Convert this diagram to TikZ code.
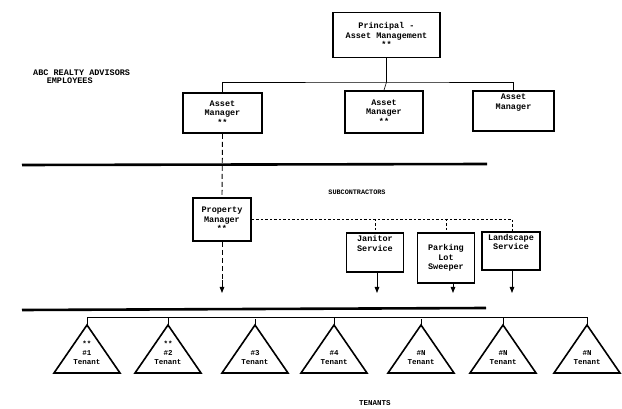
\documentclass[tikz,border=0pt]{standalone}
\usepackage{fontspec}
\setmonofont{Liberation Mono}
\usetikzlibrary{arrows.meta}
\tikzset{
  box/.style={draw, line width=1.6pt, inner sep=0pt, align=center, font=\ttfamily\bfseries\fontsize{8.5}{9.5}\selectfont},
  thin/.style={line width=0.6pt},
  sep/.style={line width=2.6pt},
  tri/.style={draw, line width=1.6pt, line join=miter},
  ttext/.style={align=center, font=\ttfamily\bfseries\fontsize{7.5}{9}\selectfont, inner sep=0pt},
  lbl/.style={align=left, font=\ttfamily\bfseries\fontsize{8.5}{8}\selectfont, inner sep=0pt},
  arr/.style={-{Triangle[length=6pt,width=4.5pt]}, line width=0.9pt},
  dashv/.style={dash pattern=on 5pt off 3pt, line width=0.9pt},
  dashh/.style={dash pattern=on 2.5pt off 2pt, line width=0.6pt}
}
\begin{document}
\begin{tikzpicture}[x=1pt,y=-1pt]
\useasboundingbox (0,0) rectangle (622,409);
% employees
\node[box, minimum width=107pt, minimum height=45pt] (pr) at (386.5,35) {Principal -\\Asset Management\\**};
\node[lbl, anchor=north west] (abc) at (33,70) {ABC REALTY ADVISORS\\\hspace{1.6em}EMPLOYEES};
\node[box, minimum width=79pt, minimum height=40pt] (am1) at (222.5,113) {Asset\\Manager\\**};
\node[box, minimum width=78pt, minimum height=42pt] (am2) at (384,112) {Asset\\Manager\\**};
\node[box, minimum width=81pt, minimum height=40pt] (am3) at (513.5,111) {Asset\\Manager\\[9pt]};
\coordinate (hl) at (386.5,82);
\draw[thin] (pr.south) -- (hl);
\draw[thin] (am1.north) |- (hl) -| (am3.north);
\draw[thin] (hl) -- (am2.north);
% separator 1
\coordinate (s1a) at (22,165);
\coordinate (s1b) at (487,164);
\draw[sep] (s1a) -- (s1b);
% subcontractors
\node[font=\ttfamily\bfseries\fontsize{6.8}{7}\selectfont, inner sep=0pt] (sub) at (357,192) {SUBCONTRACTORS};
\node[box, minimum width=58pt, minimum height=43pt] (pm) at (222,219.5) {Property\\Manager\\**};
\node[box, minimum width=57pt, minimum height=39pt] (jan) at (375,252.5) {Janitor\\Service\\[9pt]};
\node[box, minimum width=57pt, minimum height=50pt] (park) at (446,258) {Parking\\Lot\\Sweeper};
\node[box, minimum width=58pt, minimum height=38pt] (land) at (511,251) {Landscape\\Service\\[9pt]};
\draw[dashv] (am1.south) -- (pm.north);
\coordinate (dh) at (512,219);
\draw[dashh] (pm.east |- dh) -- (dh) -- (land.north -| dh);
\draw[dashh] (jan.north |- dh) -- (jan.north);
\draw[dashh] (park.north |- dh) -- (park.north);
\coordinate (pmend) at (222,293);
\draw[dashv] (pm.south) -- ++(0,40);
\draw[arr] (222,280) -- (pmend);
\coordinate (janend) at (377,293);
\coordinate (parkend) at (453,293);
\coordinate (landend) at (512,293);
\draw[arr] (jan.south -| janend) -- (janend);
\draw[arr] (park.south -| parkend) -- (parkend);
\draw[arr] (land.south -| landend) -- (landend);
% separator 2
\coordinate (s2a) at (22,310);
\coordinate (s2b) at (486,308);
\draw[sep] (s2a) -- (s2b);
% tenants
\foreach \n/\cx/\lab in {1/87/{**\\\#1\\Tenant}, 2/168/{**\\\#2\\Tenant}, 3/255/{\#3\\Tenant}, 4/334/{\#4\\Tenant}, 5/421/{\#N\\Tenant}, 6/503/{\#N\\Tenant}, 7/587/{\#N\\Tenant}}{
  \draw[tri] (\cx,325) -- (\cx+33,373) -- (\cx-33,373) -- cycle;
  \coordinate (t\n) at (\cx,325);
  \node[ttext, anchor=south] (tl\n) at (\cx,365) {\lab};
}
\coordinate (tl) at (87,317);
\draw[thin] (t1) -- (tl) -- (tl -| t7) -- (t7);
\draw[thin] (t2) -- (t2 |- tl);
\draw[thin] (t4) -- (t4 |- tl);
\draw[thin] (t6) -- (t6 |- tl);
\draw[thin] (t3) -- ++(0,-6);
\draw[thin] (t5) -- ++(0,-6);
\node[font=\ttfamily\bfseries\fontsize{7.5}{8}\selectfont, inner sep=0pt] (ten) at (375,403) {TENANTS};
\end{tikzpicture}
\end{document}
